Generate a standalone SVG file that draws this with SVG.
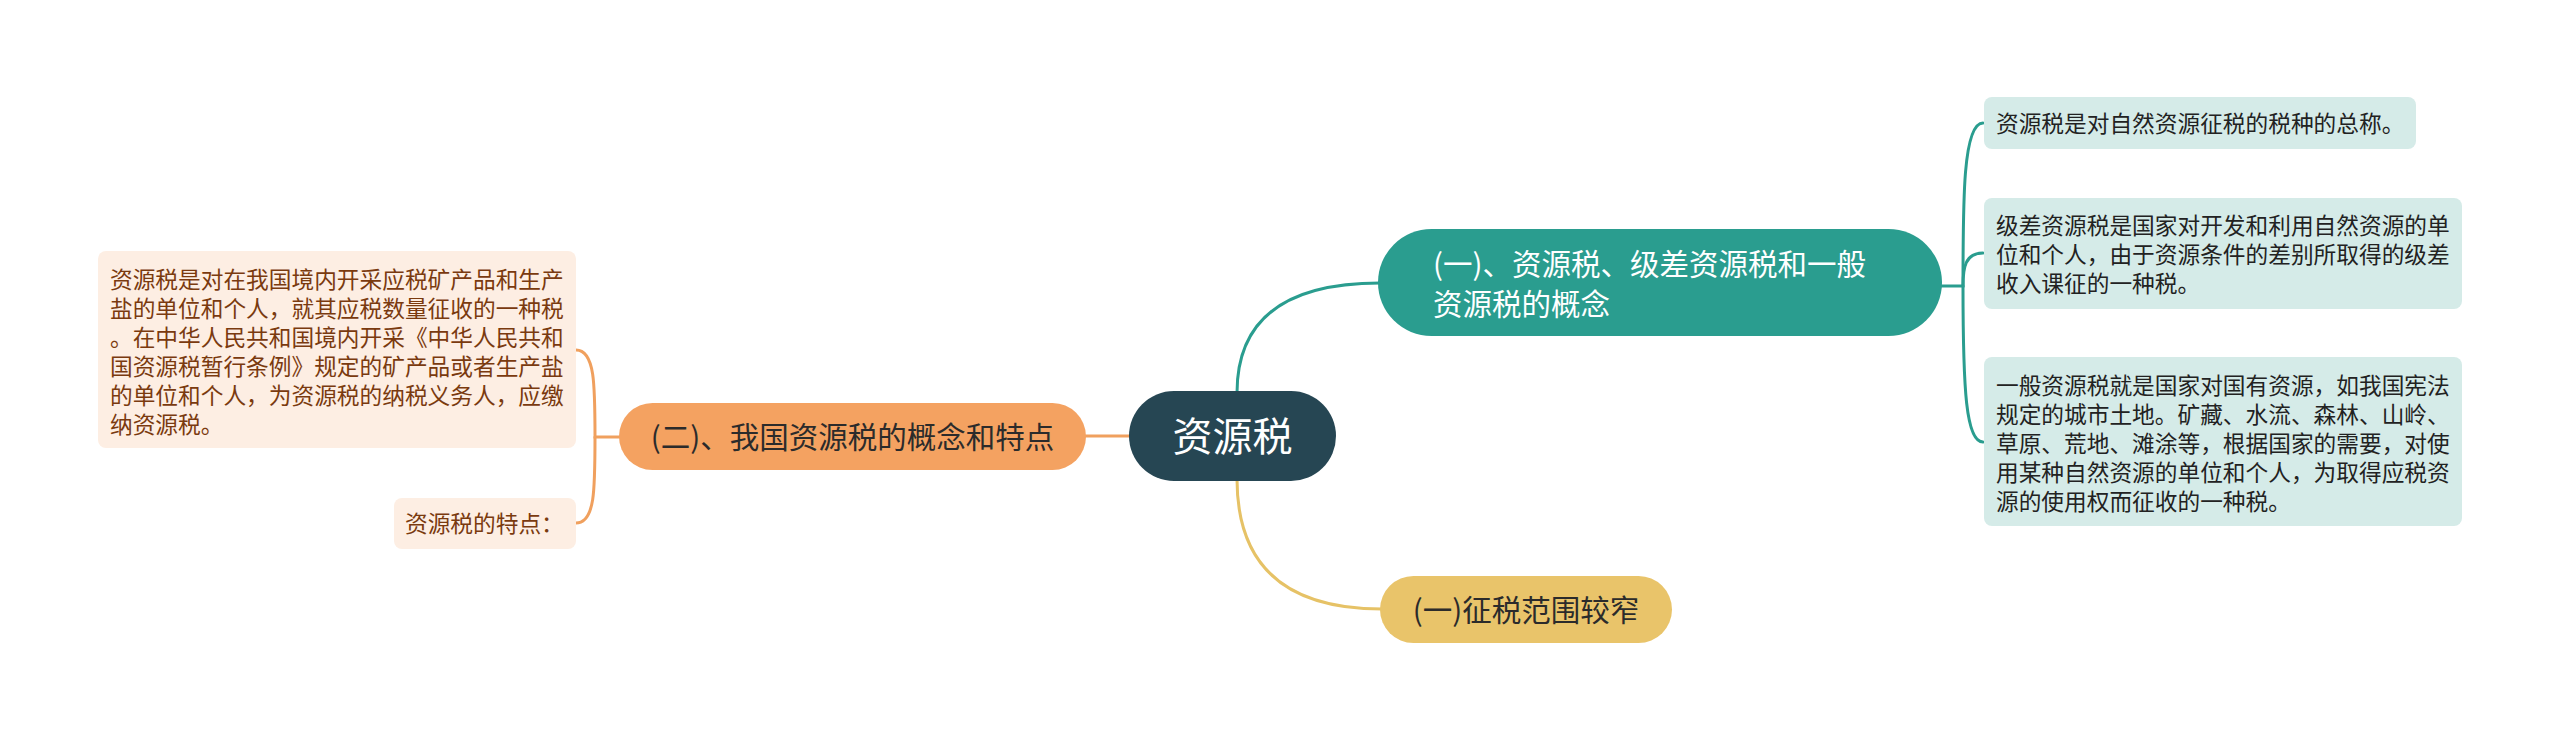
<svg xmlns="http://www.w3.org/2000/svg" width="2560" height="741" viewBox="0 0 2560 741">
<style>
text { font-family: "Noto Sans CJK SC", "Noto Sans", sans-serif; }
.edge { fill: none; stroke-width: 3; stroke-linecap: round; }
.teal { stroke: #2a9d8f; }
.orange { stroke: #f0a05e; }
.yellow { stroke: #e6c266; }
.main { font-size: 29.5px; }
.leaf { font-size: 22.7px; }
.tleaf { fill: #d5ebe8; }
.oleaf { fill: #fdeee3; }
.ttext { fill: #222222; }
.otext { fill: #7a3a0f; }
</style>
<rect width="2560" height="741" fill="#ffffff"/>
<g id="connectors">
  <path class="edge teal" d="M1237 393 Q1237 283 1380 283"/>
  <path class="edge yellow" d="M1237 479 Q1237 609 1382 609"/>
  <path class="edge orange" d="M1131 436 H1084"/>
  <path class="edge teal" d="M1940 286 H1963 C1963 200 1963 123 1983 123"/>
  <path class="edge teal" d="M1963 286 C1963 268 1965 253 1983 253"/>
  <path class="edge teal" d="M1963 286 C1963 390 1966 442 1983 442"/>
  <path class="edge orange" d="M621 437 H595 C595 385 595 350 576 350"/>
  <path class="edge orange" d="M595 437 C595 490 595 523 576 523"/>
</g>
<g id="root">
  <rect x="1129" y="391" width="207" height="90" rx="45" fill="#264653"/>
  <text x="1232.5" y="451" font-size="40" fill="#ffffff" text-anchor="middle">资源税</text>
</g>
<g id="n1">
  <rect x="1378" y="229" width="564" height="107" rx="53.5" fill="#2a9d8f"/>
  <text class="main" fill="#ffffff"><tspan x="1433" y="275">(一)、资源税、级差资源税和一般</tspan><tspan x="1433" y="315">资源税的概念</tspan></text>
</g>
<g id="n1a">
  <rect class="tleaf" x="1984" y="97" width="432" height="52" rx="8"/>
  <text class="leaf ttext" x="1996" y="132">资源税是对自然资源征税的税种的总称。</text>
</g>
<g id="n1b">
  <rect class="tleaf" x="1984" y="198" width="478" height="111" rx="8"/>
  <text class="leaf ttext"><tspan x="1996" y="234">级差资源税是国家对开发和利用自然资源的单</tspan><tspan x="1996" y="263">位和个人，由于资源条件的差别所取得的级差</tspan><tspan x="1996" y="292">收入课征的一种税。</tspan></text>
</g>
<g id="n1c">
  <rect class="tleaf" x="1984" y="357" width="478" height="169" rx="8"/>
  <text class="leaf ttext"><tspan x="1996" y="394">一般资源税就是国家对国有资源，如我国宪法</tspan><tspan x="1996" y="423">规定的城市土地。矿藏、水流、森林、山岭、</tspan><tspan x="1996" y="452">草原、荒地、滩涂等，根据国家的需要，对使</tspan><tspan x="1996" y="481">用某种自然资源的单位和个人，为取得应税资</tspan><tspan x="1996" y="510">源的使用权而征收的一种税。</tspan></text>
</g>
<g id="n2">
  <rect x="619" y="403" width="467" height="67" rx="33.5" fill="#f4a261"/>
  <text class="main" x="852.5" y="448" fill="#2b2b2b" text-anchor="middle">(二)、我国资源税的概念和特点</text>
</g>
<g id="n2a">
  <rect class="oleaf" x="98" y="251" width="478" height="197" rx="8"/>
  <text class="leaf otext"><tspan x="110" y="288">资源税是对在我国境内开采应税矿产品和生产</tspan><tspan x="110" y="317">盐的单位和个人，就其应税数量征收的一种税</tspan><tspan x="110" y="346">。在中华人民共和国境内开采《中华人民共和</tspan><tspan x="110" y="375">国资源税暂行条例》规定的矿产品或者生产盐</tspan><tspan x="110" y="404">的单位和个人，为资源税的纳税义务人，应缴</tspan><tspan x="110" y="433">纳资源税。</tspan></text>
</g>
<g id="n2b">
  <rect class="oleaf" x="394" y="498" width="182" height="51" rx="8"/>
  <text class="leaf otext" x="405" y="532">资源税的特点：</text>
</g>
<g id="n3">
  <rect x="1380" y="576" width="292" height="67" rx="33.5" fill="#e9c46a"/>
  <text class="main" x="1526" y="621" fill="#2b2b2b" text-anchor="middle">(一)征税范围较窄</text>
</g>
</svg>
